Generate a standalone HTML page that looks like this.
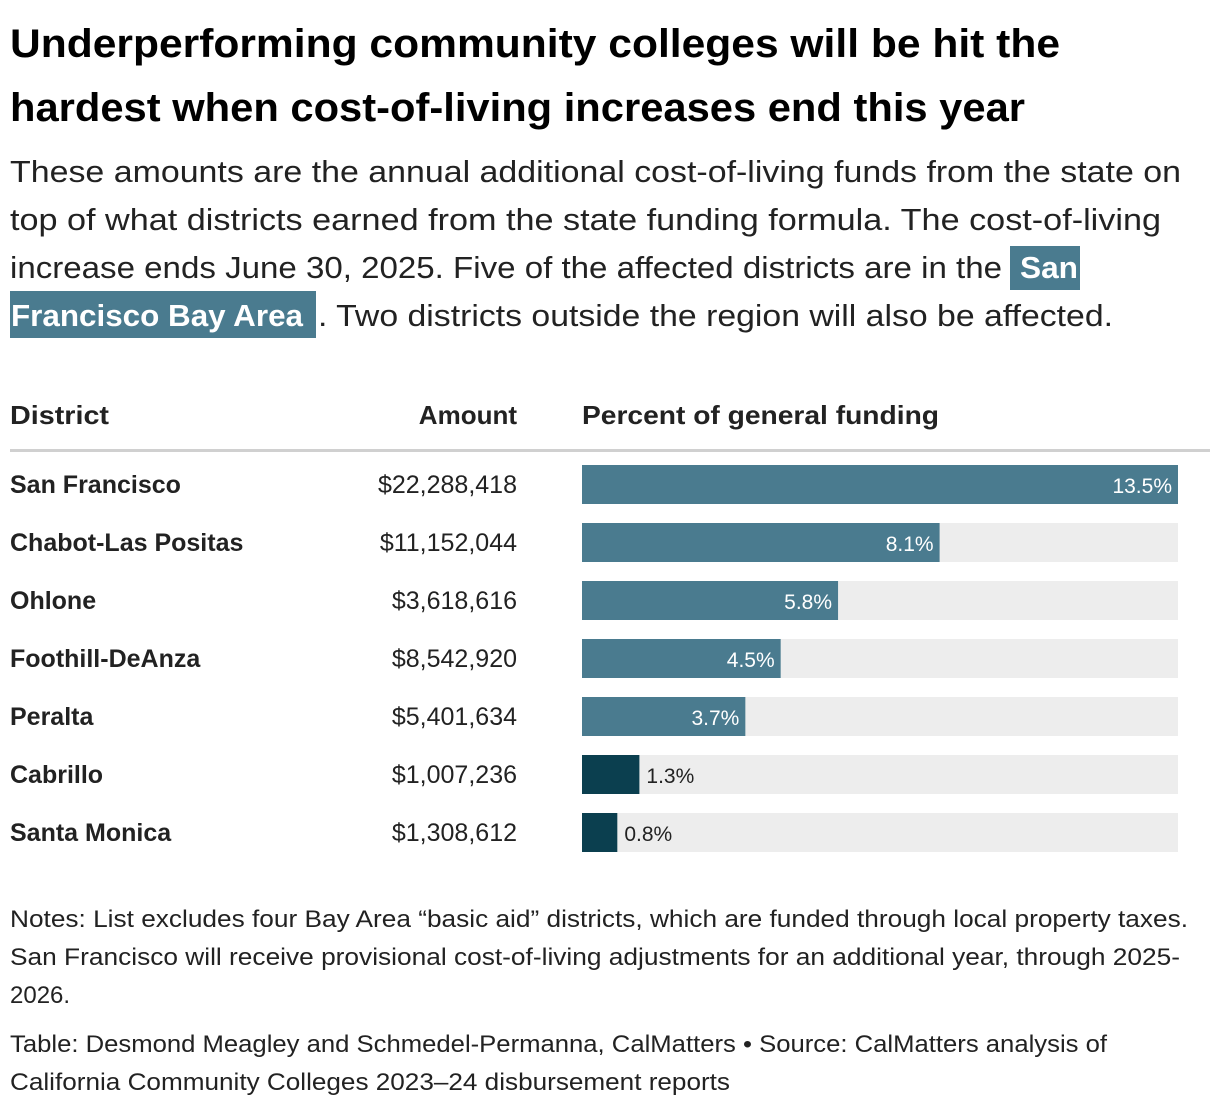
<!DOCTYPE html>
<html><head><meta charset="utf-8"><style>
html,body{margin:0;padding:0;background:#fff;}
svg{display:block;font-family:"Liberation Sans",sans-serif;}
</style></head><body>
<svg id="chart" width="1220" height="1110" viewBox="0 0 1220 1110" xmlns="http://www.w3.org/2000/svg">
<g font-weight="bold" font-size="40" fill="#000">
<text x="10" y="57" textLength="1050" lengthAdjust="spacingAndGlyphs">Underperforming community colleges will be hit the</text>
<text x="10" y="121" textLength="1015" lengthAdjust="spacingAndGlyphs">hardest when cost-of-living increases end this year</text>
</g>
<g font-size="31" fill="#222">
<rect x="1010" y="246" width="70" height="44" fill="#4a7b8f"/>
<rect x="10" y="291" width="306" height="47" fill="#4a7b8f"/>
<text x="10" y="182" textLength="1171" lengthAdjust="spacingAndGlyphs">These amounts are the annual additional cost-of-living funds from the state on</text>
<text x="10" y="230" textLength="1151" lengthAdjust="spacingAndGlyphs">top of what districts earned from the state funding formula. The cost-of-living</text>
<text x="10" y="278" textLength="992" lengthAdjust="spacingAndGlyphs">increase ends June 30, 2025. Five of the affected districts are in the</text>
<text x="1020" y="278" textLength="58" lengthAdjust="spacingAndGlyphs" fill="#fff" font-weight="bold">San</text>
<text x="11" y="326" textLength="292" lengthAdjust="spacingAndGlyphs" fill="#fff" font-weight="bold">Francisco Bay Area</text>
<text x="318" y="326" textLength="795" lengthAdjust="spacingAndGlyphs">. Two districts outside the region will also be affected.</text>
</g>
<g font-weight="bold" font-size="26" fill="#222">
<text x="10" y="424" textLength="99" lengthAdjust="spacingAndGlyphs">District</text>
<text x="517" y="424" text-anchor="end">Amount</text>
<text x="582" y="424" textLength="357" lengthAdjust="spacingAndGlyphs">Percent of general funding</text>
</g>
<rect x="10" y="449" width="1200" height="3" fill="#d0d0d0"/>
<g id="rows"></g>
<g font-size="24" fill="#222">
<text x="10" y="927" textLength="1178" lengthAdjust="spacingAndGlyphs">Notes: List excludes four Bay Area “basic aid” districts, which are funded through local property taxes.</text>
<text x="10" y="965" textLength="1170" lengthAdjust="spacingAndGlyphs">San Francisco will receive provisional cost-of-living adjustments for an additional year, through 2025-</text>
<text x="10" y="1003">2026.</text>
<text x="10" y="1052" textLength="1097" lengthAdjust="spacingAndGlyphs">Table: Desmond Meagley and Schmedel-Permanna, CalMatters • Source: CalMatters analysis of</text>
<text x="10" y="1090" textLength="720" lengthAdjust="spacingAndGlyphs">California Community Colleges 2023–24 disbursement reports</text>
</g>
</svg>
<script>
const districts = ["San Francisco","Chabot-Las Positas","Ohlone","Foothill-DeAnza","Peralta","Cabrillo","Santa Monica"];
const amounts = ["$22,288,418","$11,152,044","$3,618,616","$8,542,920","$5,401,634","$1,007,236","$1,308,612"];
const percents = [13.5,8.1,5.8,4.5,3.7,1.3,0.8];
const bayArea = [true,true,true,true,true,false,false];
const maxPct = 13.5;
const NS="http://www.w3.org/2000/svg";
const x0=582, trackW=596, rowTop=465, rowStep=58, barH=39;
function xScale(v){return trackW*v/maxPct;}
function yRow(i){return rowTop+i*rowStep;}
const g=document.getElementById('rows');
function mk(tag,attrs,parent){const e=document.createElementNS(NS,tag);for(const k in attrs)e.setAttribute(k,attrs[k]);parent.appendChild(e);return e;}
districts.forEach((d,i)=>{
  const y=yRow(i);
  const row=mk('g',{},g);
  
  
  const name=mk('text',{x:10,y:y+28,'font-size':25,'font-weight':'bold',fill:'#222'},row);
  name.textContent=d;
  
  
  const amt=mk('text',{x:517,y:y+28,'font-size':25,fill:'#222','text-anchor':'end'},row);
  amt.textContent=amounts[i];
  
  
  const track=mk('rect',{x:x0,y:y,width:trackW,height:barH,fill:'#ededed'},row);
  
  
  const w=xScale(percents[i]);
  const bar=mk('rect',{x:x0,y:y,width:w,height:barH,fill:bayArea[i]?'#4a7b8f':'#0b3f4f'},row);
  
  
  const inside=w>80;
  const lbl=mk('text',{x:inside?x0+w-6:x0+w+7,y:y+28,'font-size':21,fill:inside?'#fff':'#222','text-anchor':inside?'end':'start'},row);
  lbl.textContent=percents[i].toFixed(1)+'%';
  
  
});
</script>
</body></html>
